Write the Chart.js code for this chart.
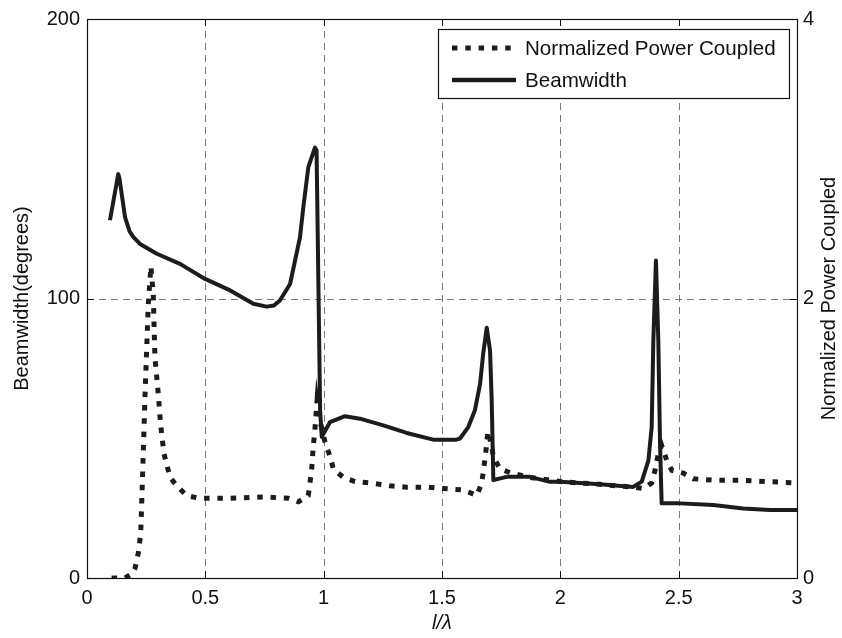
<!DOCTYPE html>
<html><head><meta charset="utf-8">
<script src="https://cdn.jsdelivr.net/npm/chart.js@4/dist/chart.umd.min.js"></script>
<style>html,body{margin:0;padding:0;background:#fff}#wrap{width:842px;height:638px}</style>
</head><body><div id="wrap"><canvas id="c" width="842" height="638"></canvas></div>
<script>
// ---- data ----
const beamX = [0.097,0.132,0.137,0.161,0.18,0.196,0.224,0.295,0.393,0.499,0.605,0.703,0.759,0.79,0.815,0.858,0.9,0.914,0.935,0.963,0.970,0.985,0.992,1.027,1.09,1.153,1.252,1.351,1.463,1.561,1.576,1.611,1.639,1.661,1.674,1.689,1.703,1.710,1.717,1.773,1.872,1.956,2.0,2.167,2.308,2.344,2.372,2.386,2.393,2.404,2.414,2.421,2.428,2.506,2.646,2.773,2.886,3.0];
const beamY = [128,144.5,143,129,124,122,119.5,116,112.4,107,102.9,98.1,97.1,97.5,99.3,105.2,121.9,132.6,146.9,154,153,60,50.5,55.8,57.9,57,54.6,51.9,49.5,49.5,49.9,54,60,69.5,80.2,89.5,81.4,63.6,35,36.2,36.2,34.4,34.4,33.5,32.6,34.5,42,54,85,113.6,85,49.3,26.7,26.7,26.1,24.9,24.3,24.3];
const powerX = [0.104,0.161,0.19,0.203,0.217,0.227,0.231,0.238,0.245,0.252,0.259,0.27,0.28,0.287,0.301,0.311,0.325,0.351,0.379,0.421,0.477,0.6,0.75,0.85,0.893,0.935,0.949,0.956,0.963,0.972,0.985,1.006,1.027,1.041,1.083,1.132,1.196,1.28,1.351,1.435,1.506,1.59,1.647,1.668,1.683,1.694,1.71,1.717,1.745,1.795,1.872,1.956,2.0,2.167,2.308,2.351,2.386,2.4,2.414,2.428,2.45,2.471,2.52,2.562,2.646,2.759,2.872,3.0];
const powerY = [0,0,0.03,0.07,0.18,0.32,0.53,0.91,1.3,1.63,1.96,2.23,2.03,1.58,1.32,1.1,0.89,0.72,0.66,0.59,0.57,0.57,0.58,0.57,0.545,0.59,0.77,0.94,1.06,1.27,1.12,0.97,0.87,0.78,0.72,0.69,0.68,0.66,0.65,0.65,0.64,0.63,0.59,0.68,0.87,1.05,0.94,0.87,0.78,0.75,0.72,0.7,0.69,0.67,0.65,0.64,0.68,0.77,0.89,0.95,0.84,0.77,0.75,0.71,0.7,0.7,0.69,0.68];
const xTicks = [0,0.5,1,1.5,2,2.5,3];
const leftTicks = [0,100,200];
const rightTicks = [0,2,4];
const seriesNames = ['Normalized Power Coupled','Beamwidth'];
const xTitle = 'l/\u03bb';
const leftTitle = 'Beamwidth(degrees)';
const rightTitle = 'Normalized Power Coupled';

const FONT = 'Liberation Sans, Arial, Helvetica, sans-serif';
const INK = '#111111';
const LINE = '#1c1c1c';
const DOT = [5.5, 7.8];

const pts = (xs, ys) => xs.map((v, i) => ({x: v, y: ys[i]}));

const decor = {
  id: 'decor',
  beforeDatasetsDraw(chart) {
    const {ctx, chartArea: a, scales} = chart;
    ctx.save();
    ctx.strokeStyle = '#7a7a7a';
    ctx.lineWidth = 1;
    ctx.setLineDash([7, 5]);
    xTicks.forEach(v => {
      if (v <= scales.x.min || v >= scales.x.max) return;
      const p = Math.round(scales.x.getPixelForValue(v)) + 0.5;
      ctx.beginPath(); ctx.moveTo(p, a.top); ctx.lineTo(p, a.bottom); ctx.stroke();
    });
    leftTicks.forEach(v => {
      if (v <= scales.y.min || v >= scales.y.max) return;
      const p = Math.round(scales.y.getPixelForValue(v)) + 0.5;
      ctx.beginPath(); ctx.moveTo(a.left, p); ctx.lineTo(a.right, p); ctx.stroke();
    });
    ctx.restore();
  },
  afterDatasetsDraw(chart) {
    const {ctx, chartArea: a, scales} = chart;
    ctx.save();
    // frame
    ctx.strokeStyle = INK; ctx.lineWidth = 1.2; ctx.setLineDash([]);
    ctx.strokeRect(Math.round(a.left) + 0.5, Math.round(a.top) + 0.5, Math.round(a.right - a.left), Math.round(a.bottom - a.top));
    // inward ticks
    const L = 7;
    ctx.lineWidth = 1;
    xTicks.forEach(v => {
      const p = Math.round(scales.x.getPixelForValue(v)) + 0.5;
      ctx.beginPath();
      ctx.moveTo(p, a.bottom); ctx.lineTo(p, a.bottom - L);
      ctx.moveTo(p, a.top); ctx.lineTo(p, a.top + L);
      ctx.stroke();
    });
    leftTicks.forEach(v => {
      const p = Math.round(scales.y.getPixelForValue(v)) + 0.5;
      ctx.beginPath(); ctx.moveTo(a.left, p); ctx.lineTo(a.left + L, p); ctx.stroke();
    });
    rightTicks.forEach(v => {
      const p = Math.round(scales.y1.getPixelForValue(v)) + 0.5;
      ctx.beginPath(); ctx.moveTo(a.right, p); ctx.lineTo(a.right - L, p); ctx.stroke();
    });
    // right axis title (reads bottom to top)
    ctx.fillStyle = INK;
    ctx.font = '20px ' + FONT;
    ctx.textAlign = 'center'; ctx.textBaseline = 'middle';
    ctx.translate(829, (a.top + a.bottom) / 2);
    ctx.rotate(-Math.PI / 2);
    ctx.fillText(rightTitle, 0, 0);
    ctx.restore();

    // legend
    ctx.save();
    const bx = 438.5, by = 29.5, bw = 351, bh = 69;
    ctx.fillStyle = '#fff';
    ctx.fillRect(bx, by, bw, bh);
    ctx.strokeStyle = INK; ctx.lineWidth = 1.2;
    ctx.strokeRect(bx, by, bw, bh);
    const rows = [48, 80];
    ctx.strokeStyle = LINE;
    ctx.lineCap = 'butt';
    ctx.lineWidth = 5; ctx.setLineDash(DOT);
    ctx.beginPath(); ctx.moveTo(452, rows[0]); ctx.lineTo(517, rows[0]); ctx.stroke();
    ctx.setLineDash([]); ctx.lineWidth = 4.5;
    ctx.beginPath(); ctx.moveTo(452, rows[1]); ctx.lineTo(516, rows[1]); ctx.stroke();
    ctx.fillStyle = INK;
    ctx.font = '20.6px ' + FONT;
    ctx.textAlign = 'left'; ctx.textBaseline = 'middle';
    ctx.fillText(seriesNames[0], 525, rows[0] + 1);
    ctx.fillText(seriesNames[1], 525, rows[1] + 1);
    ctx.restore();
  }
};

new Chart(document.getElementById('c'), {
  type: 'line',
  data: {
    datasets: [
      {
        label: seriesNames[0],
        data: pts(powerX, powerY),
        yAxisID: 'y1',
        borderColor: LINE,
        borderWidth: 5,
        borderDash: DOT,
        borderCapStyle: 'butt',
        pointRadius: 0,
        tension: 0,
        fill: false
      },
      {
        label: seriesNames[1],
        data: pts(beamX, beamY),
        yAxisID: 'y',
        borderColor: LINE,
        borderWidth: 4,
        borderJoinStyle: 'round',
        pointRadius: 0,
        tension: 0,
        fill: false
      }
    ]
  },
  options: {
    responsive: false,
    animation: false,
    layout: {padding: {top: 18, left: 0, right: 0, bottom: 0}},
    plugins: {legend: {display: false}, tooltip: {enabled: false}},
    scales: {
      x: {
        type: 'linear', min: 0, max: 3,
        afterBuildTicks: s => { s.ticks = xTicks.map(v => ({value: v})); },
        afterFit: s => { s.height = 60; },
        grid: {display: false, drawTicks: false},
        border: {display: false},
        ticks: {color: INK, font: {family: FONT, size: 20}, padding: 8, maxRotation: 0, autoSkip: false,
                callback: v => String(v)},
        title: {display: true, text: xTitle, color: INK, font: {family: FONT, size: 20, style: 'italic'}, padding: {top: 0, bottom: 3}}
      },
      y: {
        type: 'linear', position: 'left', min: 0, max: 200,
        afterBuildTicks: s => { s.ticks = leftTicks.map(v => ({value: v})); },
        afterFit: s => { s.width = 87; },
        grid: {display: false, drawTicks: false},
        border: {display: false},
        ticks: {color: INK, font: {family: FONT, size: 20}, padding: 7, callback: v => String(v)},
        title: {display: true, text: leftTitle, color: INK, font: {family: FONT, size: 20}, padding: {top: 10, bottom: 0}}
      },
      y1: {
        type: 'linear', position: 'right', min: 0, max: 4,
        afterBuildTicks: s => { s.ticks = rightTicks.map(v => ({value: v})); },
        afterFit: s => { s.width = 45; },
        grid: {display: false, drawTicks: false},
        border: {display: false},
        ticks: {color: INK, font: {family: FONT, size: 20}, padding: 6, callback: v => String(v)},
        title: {display: false}
      }
    }
  },
  plugins: [decor]
});
</script>
</body></html>
